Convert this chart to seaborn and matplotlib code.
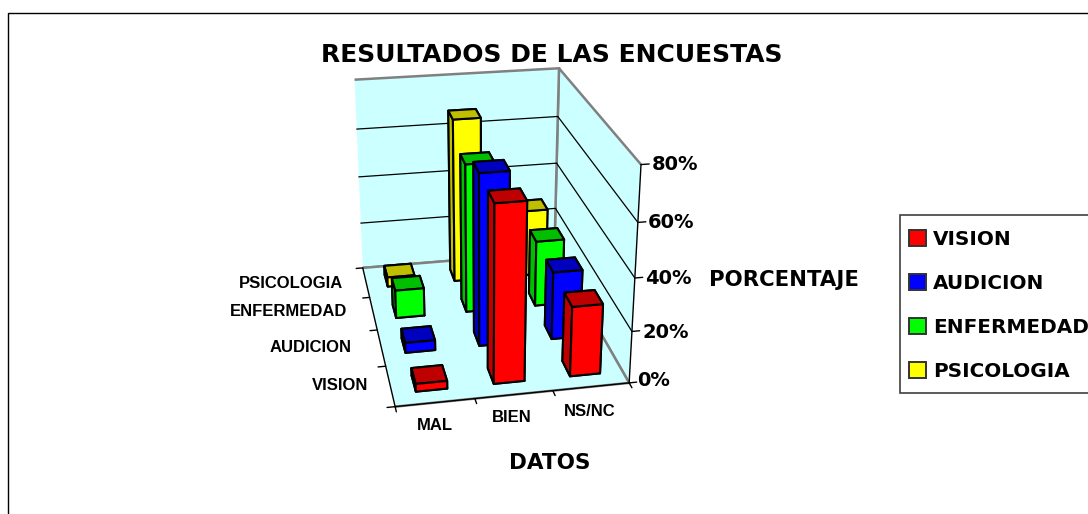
import matplotlib
matplotlib.use("Agg")
import matplotlib.pyplot as plt
import seaborn as sns
from matplotlib.patches import Patch, Rectangle

DATOS = ["MAL", "BIEN", "NS/NC"]
SERIES = ["VISION", "AUDICION", "ENFERMEDAD", "PSICOLOGIA"]
VISION = [3, 67, 27]
AUDICION = [4, 67, 27]
ENFERMEDAD = [11.5, 60, 27]
PSICOLOGIA = [4, 68, 28]
VALUES = [VISION, AUDICION, ENFERMEDAD, PSICOLOGIA]
Z_TICKS = [0, 20, 40, 60, 80]
COLORS = ["#FF0000", "#0000FF", "#00FF00", "#FFFF00"]

# posiciones de etiquetas en pixeles de la imagen
Z_LABEL_POS = [(637, 381), (642, 333), (645, 279), (648, 223), (652, 165)]
DATOS_LABEL_POS = [(435, 425), (512, 418), (590, 411)]
SERIES_LABEL_POS = [(340, 385), (311, 348), (289, 312), (291, 283)]

W, H = 1088, 514

sns.set_theme(style="white")
plt.rcParams["font.family"] = ["DejaVu Sans"]
plt.rcParams["font.weight"] = "bold"
palette = sns.color_palette(COLORS)

fig = plt.figure(figsize=(W / 100, H / 100), dpi=100, facecolor="white")


def px_text(x, y, s, **kw):
    fig.text(x / W, 1 - y / H, s, va="center", color="black", **kw)


# marco exterior
fig.add_artist(Rectangle((8 / W, -0.1), 1.2, 1.1 - 13 / H, transform=fig.transFigure,
                         fill=False, edgecolor="black", lw=1))

# camara ajustada a las esquinas de la referencia
ax = fig.add_axes([269.37 / W, 76.40 / H, 418.28 / W, 418.28 / H], projection="3d")
ax.view_init(elev=23.747, azim=-100.818)
ax.set_proj_type("persp", focal_length=0.55)
ax.set_box_aspect((1.2671, 1.6884, 1.2586))
ax.set_xlim(0, len(DATOS))
ax.set_ylim(0, len(SERIES))
ax.set_zlim(Z_TICKS[0], Z_TICKS[-1])
ax.patch.set_alpha(0)
ax.grid(False)
ax.set_xticks([])
ax.set_yticks([])
ax.set_zticks([])
ax.computed_zorder = False

for axis in (ax.xaxis, ax.yaxis, ax.zaxis):
    axis.set_pane_color("#CCFFFF")
    axis.pane.set_edgecolor("#808080")
    axis.pane.set_linewidth(1.8)
    axis.line.set_color((0, 0, 0, 0))

n_x, n_y = len(DATOS), len(SERIES)

# rejilla y ejes
for z in Z_TICKS[1:-1]:
    ax.plot([0, n_x], [n_y, n_y], [z, z], color="black", lw=0.9, zorder=1)
    ax.plot([n_x, n_x], [n_y, 0], [z, z], color="black", lw=0.9, zorder=1)
ax.plot([0, n_x], [0, 0], [0, 0], color="black", lw=1, zorder=1)
ax.plot([0, 0], [0, n_y], [0, 0], color="black", lw=1, zorder=1)
ax.plot([n_x, n_x], [0, 0], [Z_TICKS[0], Z_TICKS[-1]], color="black", lw=1, zorder=1)
for z in Z_TICKS:
    ax.plot([n_x, n_x + 0.1], [0, 0], [z, z], color="black", lw=1, zorder=1)
for i in range(n_x + 1):
    ax.plot([i, i], [0, -0.12], [0, 0], color="black", lw=1, zorder=1)
for j in range(n_y + 1):
    ax.plot([0, -0.1], [j, j], [0, 0], color="black", lw=1, zorder=1)

# barras de atras hacia delante
bar_w, bar_d = 0.4, 0.4
order = 2
for j in range(n_y - 1, -1, -1):
    for i in range(n_x - 1, -1, -1):
        face = palette[j]
        dark = tuple(0.75 * v for v in face)
        ax.bar3d(i + 0.5 - bar_w / 2, j + 0.5 - bar_d / 2, 0, bar_w, bar_d, VALUES[j][i],
                 color=[dark, dark, face, dark, dark, dark], shade=False,
                 edgecolor="black", linewidth=1.5, zorder=order)
        order += 1

for z, (x, y) in zip(Z_TICKS, Z_LABEL_POS):
    px_text(x, y, f"{z}%", fontsize=14, ha="left")
for name, (x, y) in zip(DATOS, DATOS_LABEL_POS):
    px_text(x, y, name, family="Liberation Sans", fontsize=12, ha="center")
for name, (x, y) in zip(SERIES, SERIES_LABEL_POS):
    px_text(x, y, name, family="Liberation Sans", fontsize=12, ha="center")

px_text(552, 55, "RESULTADOS DE LAS ENCUESTAS", fontsize=18, ha="center")
px_text(784, 280, "PORCENTAJE", fontsize=15.3, ha="center")
px_text(550, 463, "DATOS", fontsize=15.5, ha="center")

# leyenda con marco aparte, sale por la derecha
fig.add_artist(Rectangle((900 / W, 1 - 393 / H), 0.3, 178 / H, transform=fig.transFigure,
                         facecolor="white", edgecolor="#404040", lw=1.2))
handles = [Patch(facecolor=palette[j], edgecolor="#333333", lw=1.4, label=SERIES[j]) for j in range(n_y)]
fig.legend(handles=handles, loc="upper left", bbox_to_anchor=(909 / W, 1 - 230 / H), fontsize=14.4,
           frameon=False, labelcolor="black", handlelength=0.85, handleheight=0.85,
           handletextpad=0.35, labelspacing=1.25, borderpad=0, borderaxespad=0)

fig.savefig("out.png", dpi=100)
